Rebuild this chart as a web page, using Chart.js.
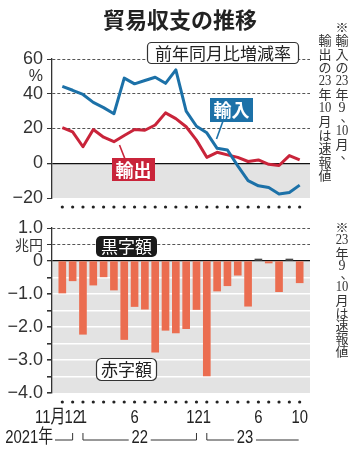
<!DOCTYPE html>
<html><head><meta charset="utf-8">
<script src="https://cdn.jsdelivr.net/npm/chart.js@4.4.0/dist/chart.umd.min.js"></script>
<style>
html,body{margin:0;padding:0;background:#fff;}
#wrap{position:relative;width:356px;height:450px;overflow:hidden;}
canvas{position:absolute;left:0;top:0;}
</style></head><body>
<div id="wrap"><canvas id="top" width="356" height="450"></canvas><canvas id="bot" width="356" height="450"></canvas></div>
<script>
// ---- data ----
const months = ['2021-11','2021-12','2022-01','2022-02','2022-03','2022-04','2022-05','2022-06','2022-07','2022-08','2022-09','2022-10','2022-11','2022-12','2023-01','2023-02','2023-03','2023-04','2023-05','2023-06','2023-07','2023-08','2023-09','2023-10'];
const monthTicks = ['11月','12','1','','','','','6','','','','','','12','1','','','','','6','','','','10'];
const yearLabels = ['2021年','22','23'];
const importYoY = [44.2,42,39.6,35,32,28.5,49,45.7,47.6,49.5,46,53.7,30,21.3,17.5,8.6,7.6,-1.5,-10,-13,-14,-17.7,-16.8,-12.6];
const exportYoY = [20.5,18,9.5,19.4,15,12.4,16,19.4,19,22,29,25.7,21,13.3,3.4,6.3,4.8,3.4,1,1.9,-0.6,-1.3,4.4,1.9];
const balance = [-0.97,-0.6,-2.22,-0.73,-0.48,-0.88,-2.38,-1.38,-1.46,-2.76,-2.1,-2.18,-2.05,-1.47,-3.48,-0.91,-0.75,-0.43,-1.37,0.02,-0.06,-0.93,0.05,-0.66];
const topTicks = [60,40,20,0,-20];
const botTicks = [1,0,-1,-2,-3,-4];

// ---- styling ----
const NUM = '"Liberation Sans", Arial, sans-serif';
const JP = '"Noto Sans CJK JP", sans-serif';
const GRAY = '#e3e3e3';
const BLUE = '#1c71a8';
const RED = '#c9243a';
const BAR = '#eb6d50';

function fmt(v, dec){ const s = dec ? Math.abs(v).toFixed(1) : String(Math.abs(v)); return v < 0 ? '−' + s : s; }
function condText(ctx, text, x, y, align, sx){ ctx.save(); ctx.translate(x, y); ctx.scale(sx, 1); ctx.textAlign = align; ctx.fillText(text, 0, 0); ctx.restore(); }
function rrect(ctx, x, y, w, h, r){ ctx.beginPath(); ctx.moveTo(x+r,y); ctx.arcTo(x+w,y,x+w,y+h,r); ctx.arcTo(x+w,y+h,x,y+h,r); ctx.arcTo(x,y+h,x,y,r); ctx.arcTo(x,y,x+w,y,r); ctx.closePath(); }
function vertText(ctx, tokens, x, y, pitch){
  ctx.save(); ctx.fillStyle = '#333'; ctx.textAlign = 'center'; ctx.textBaseline = 'middle';
  let cy = y;
  tokens.forEach(t => {
    if (t === '、') { ctx.font = '13px ' + JP; ctx.fillText(t, x + 5, cy - 5); cy += pitch * 0.7; return; }
    if (/^\d+$/.test(t)) { ctx.font = '14px "Liberation Serif", serif'; condText(ctx, t, x, cy + 0.5, 'center', t.length > 1 ? 0.9 : 1); }
    else { ctx.font = '13px ' + JP; ctx.fillText(t, x, cy); }
    cy += pitch;
  });
  ctx.restore();
}
function drawDots(chart){
  const {ctx, chartArea:a, scales:{x}} = chart;
  ctx.save(); ctx.fillStyle = '#222';
  months.forEach((m, i) => { ctx.beginPath(); ctx.arc(x.getPixelForValue(i), a.bottom + 9, 1.6, 0, Math.PI*2); ctx.fill(); });
  ctx.restore();
}
const grayBelowZero = {
  id: 'grayBelowZero',
  beforeDraw(chart){
    const {ctx, chartArea:a, scales:{y}} = chart;
    const y0 = y.getPixelForValue(0);
    ctx.save(); ctx.fillStyle = GRAY; ctx.fillRect(a.left, y0, a.right - a.left, a.bottom - y0); ctx.restore();
  }
};
const topDeco = {
  id: 'topDeco',
  afterDraw(chart){
    const ctx = chart.ctx;
    drawDots(chart);
    ctx.save();
    ctx.fillStyle = '#222'; ctx.textAlign = 'center'; ctx.textBaseline = 'middle';
    ctx.font = 'bold 22px ' + JP; ctx.fillText('貿易収支の推移', 180, 20);
    rrect(ctx, 147.5, 42.5, 151, 21, 4); ctx.fillStyle = '#fff'; ctx.fill(); ctx.strokeStyle = '#333'; ctx.lineWidth = 1.2; ctx.stroke();
    ctx.fillStyle = '#222'; ctx.font = '17px ' + JP; ctx.fillText('前年同月比増減率', 223, 53.5);
    ctx.strokeStyle = BLUE; ctx.lineWidth = 1.6; ctx.beginPath(); ctx.moveTo(223, 121); ctx.lineTo(216.5, 139); ctx.stroke();
    ctx.fillStyle = BLUE; ctx.fillRect(210, 98, 43, 24);
    ctx.fillStyle = '#fff'; ctx.font = 'bold 18px ' + JP; ctx.fillText('輸入', 231.5, 110.5);
    ctx.strokeStyle = RED; ctx.beginPath(); ctx.moveTo(119.5, 145); ctx.lineTo(125, 159); ctx.stroke();
    ctx.fillStyle = RED; ctx.fillRect(112, 158, 43, 23);
    ctx.fillStyle = '#fff'; ctx.fillText('輸出', 133.5, 170);
    ctx.restore();
    vertText(ctx, ['※','輸','入','の','23','年','9','、','10','月','、'], 342, 27, 13.5);
    vertText(ctx, ['輸','出','の','23','年','10','月','は','速','報','値'], 325, 40.5, 13.5);
  }
};
const botDeco = {
  id: 'botDeco',
  afterDraw(chart){
    const {ctx, scales:{x}} = chart;
    drawDots(chart);
    ctx.save();
    ctx.textBaseline = 'middle'; ctx.textAlign = 'center';
    rrect(ctx, 96, 236, 61, 21, 5); ctx.fillStyle = '#1a1a1a'; ctx.fill();
    ctx.fillStyle = '#fff'; ctx.font = '17px ' + JP; ctx.fillText('黒字額', 126.5, 246.5);
    rrect(ctx, 96.5, 358.5, 60, 22, 5); ctx.fillStyle = '#fff'; ctx.fill(); ctx.strokeStyle = '#333'; ctx.lineWidth = 1.2; ctx.stroke();
    ctx.fillStyle = '#222'; ctx.fillText('赤字額', 126.5, 369.5);
    ctx.fillStyle = '#222'; ctx.font = '19px ' + NUM + ', ' + JP;
    monthTicks.forEach((t, i) => {
      if (!t) return;
      const px = x.getPixelForValue(i);
      if (i === 0) condText(ctx, t, px + 3, 418, 'right', 0.78);
      else condText(ctx, t, px - (t === '12' && i > 1 ? 2 : 0), 418, 'center', 0.78);
    });
    const yb = 440, yt = 433;
    const p = v => x.getPixelForValue(v);
    condText(ctx, yearLabels[0], 53, 438, 'right', 0.78);
    condText(ctx, yearLabels[1], (p(2) + p(13)) / 2, 438, 'center', 0.78);
    condText(ctx, yearLabels[2], p(17.7), 438, 'center', 0.78);
    ctx.strokeStyle = '#333'; ctx.lineWidth = 1;
    ctx.beginPath();
    ctx.moveTo(55, yb); ctx.lineTo(p(1), yb); ctx.lineTo(p(1), yt);
    const m22 = (p(2) + p(13)) / 2;
    ctx.moveTo(p(2), yt); ctx.lineTo(p(2), yb); ctx.lineTo(m22 - 11, yb);
    ctx.moveTo(m22 + 11, yb); ctx.lineTo(p(13), yb); ctx.lineTo(p(13), yt);
    ctx.moveTo(p(14), yt); ctx.lineTo(p(14), yb); ctx.lineTo(p(17.7) - 11, yb);
    ctx.moveTo(p(17.7) + 11, yb); ctx.lineTo(p(23) - 1, yb);
    ctx.stroke();
    ctx.restore();
    vertText(ctx, ['※','23','年','9','、','10','月','は','速','報','値'], 342, 227, 12.8);
  }
};

const xScale = () => ({ type: 'linear', min: -1, max: 24, display: false, offset: false, grid: { offset: false } });

new Chart(document.getElementById('top'), {
  type: 'line',
  data: { datasets: [
    { label: '輸入', data: importYoY.map((v, i) => ({ x: i, y: v })), borderColor: BLUE, borderWidth: 3, pointRadius: 0, tension: 0, borderJoinStyle: 'round', fill: false },
    { label: '輸出', data: exportYoY.map((v, i) => ({ x: i, y: v })), borderColor: RED, borderWidth: 3, pointRadius: 0, tension: 0, borderJoinStyle: 'round', fill: false }
  ]},
  options: {
    responsive: false, animation: false, devicePixelRatio: 1,
    layout: { padding: { top: 59, bottom: 252, left: 0, right: 46 } },
    plugins: { legend: { display: false }, tooltip: { enabled: false } },
    scales: {
      x: xScale(),
      y: {
        min: -20, max: 60,
        afterFit(s){ s.width = 52; },
        ticks: {
          stepSize: 10, autoSkip: false, padding: 4, color: '#333',
          font: c => (c.tick && c.tick.value === 50) ? { family: NUM, size: 16 } : { family: NUM, size: 18 },
          callback: v => v === 50 ? '%' : (topTicks.includes(v) ? fmt(v, false) : '')
        },
        grid: {
          tickLength: 5,
          color: c => { const v = c.tick && c.tick.value; if (v === 0) return '#111'; if (v > 0 && v % 20 === 0) return '#555'; return 'rgba(0,0,0,0)'; },
          lineWidth: c => (c.tick && c.tick.value === 0) ? 1.3 : 1,
          tickColor: c => (c.tick && topTicks.includes(c.tick.value)) ? '#333' : 'rgba(0,0,0,0)'
        },
        border: { display: true, color: '#333', width: 1.3, dash: c => (c.tick && c.tick.value > 0) ? [3, 2] : [] }
      }
    }
  },
  plugins: [grayBelowZero, topDeco]
});

new Chart(document.getElementById('bot'), {
  type: 'bar',
  data: { datasets: [
    { label: '貿易収支', data: balance.map((v, i) => ({ x: i, y: v })), backgroundColor: balance.map(v => v >= 0 ? '#4a4a4a' : BAR), barThickness: 7, minBarLength: 2 }
  ]},
  options: {
    responsive: false, animation: false, devicePixelRatio: 1,
    layout: { padding: { top: 228, bottom: 57, left: 0, right: 46 } },
    plugins: { legend: { display: false }, tooltip: { enabled: false } },
    scales: {
      x: xScale(),
      y: {
        min: -4, max: 1,
        afterFit(s){ s.width = 52; },
        ticks: {
          stepSize: 0.5, autoSkip: false, padding: 4, color: '#333',
          font: c => (c.tick && c.tick.value === 0.5) ? { family: JP, size: 14 } : { family: NUM, size: 18 },
          callback: v => v === 0.5 ? '兆円' : (botTicks.includes(v) ? (v === 0 ? '0' : fmt(v, true)) : '')
        },
        grid: {
          tickLength: 5,
          color: c => { const v = c.tick && c.tick.value; if (v === 0) return '#111'; if (v > 0) return '#555'; if (v === -4) return 'rgba(0,0,0,0)'; return '#ffffff'; },
          lineWidth: c => { const v = c.tick && c.tick.value; return v === 0 ? 1.3 : (v < 0 ? 1.6 : 1); },
          tickColor: '#333'
        },
        border: { display: true, color: '#333', width: 1.3, dash: c => (c.tick && c.tick.value > 0) ? [3, 2] : [] }
      }
    }
  },
  plugins: [grayBelowZero, botDeco]
});
</script>
</body></html>
